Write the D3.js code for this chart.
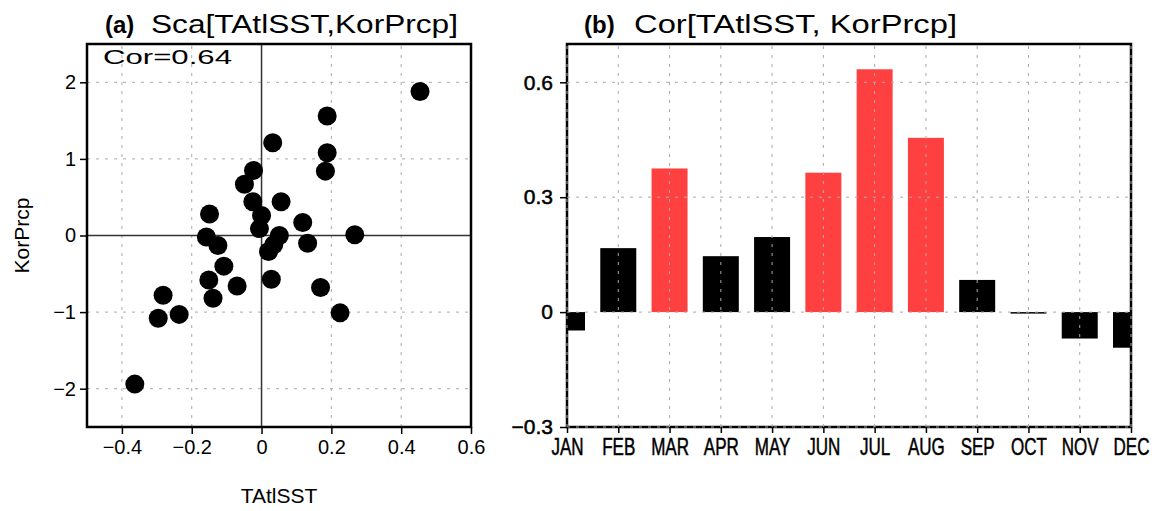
<!DOCTYPE html>
<html>
<head>
<meta charset="utf-8">
<script src="https://cdn.jsdelivr.net/npm/d3@7"></script>
<style>
  body { margin: 0; background: #fff; }
  svg { display: block; }
</style>
</head>
<body>
<svg id="chart" width="1156" height="511"></svg>
<script>
// panel (a) scatter: TAtlSST anomaly vs KorPrcp anomaly
const sstVals = [0.454, 0.188, 0.032, 0.188, 0.183, -0.023, -0.049, -0.025, 0.056, -0.149,
  0.0, 0.118, -0.006, 0.267, -0.158, 0.051, -0.125, 0.132, 0.035, 0.02,
  -0.108, 0.028, -0.151, -0.07, 0.169, -0.139, -0.282, 0.225, -0.236, -0.296, -0.363];
const prcpVals = [1.88, 1.56, 1.21, 1.08, 0.84, 0.85, 0.67, 0.44, 0.44, 0.28,
  0.26, 0.17, 0.09, 0.01, -0.02, 0.0, -0.13, -0.1, -0.12, -0.21,
  -0.40, -0.57, -0.58, -0.66, -0.68, -0.82, -0.78, -1.01, -1.03, -1.08, -1.94];
const xTicksA = [-0.4, -0.2, 0, 0.2, 0.4, 0.6];
const yTicksA = [-2, -1, 0, 1, 2];

// panel (b) monthly correlation
const months = ["JAN", "FEB", "MAR", "APR", "MAY", "JUN", "JUL", "AUG", "SEP", "OCT", "NOV", "DEC"];
const corVals = [-0.048, 0.167, 0.375, 0.146, 0.196, 0.364, 0.634, 0.455, 0.084, -0.003, -0.069, -0.093];
const significant = [false, false, true, false, false, true, true, true, false, false, false, false];
const yTicksB = [-0.3, 0, 0.3, 0.6];

const svg = d3.select("#chart");
const font = "'Liberation Sans', Arial, sans-serif";
const gridColor = "#aaa";
const fmt1 = d => d === 0 ? "0" : d3.format(".1f")(d);

// ---------- panel (a) ----------
const xa = d3.scaleLinear().domain([-0.5, 0.6]).range([87, 471]);
const ya = d3.scaleLinear().domain([-2.5, 2.5]).range([427, 44]);

const ga = svg.append("g");

// dashed grid
ga.append("g").selectAll("line")
  .data(xTicksA.filter(d => d !== 0 && d !== 0.6))
  .enter().append("line")
  .attr("x1", d => xa(d)).attr("x2", d => xa(d))
  .attr("y1", ya.range()[0]).attr("y2", ya.range()[1])
  .attr("stroke", gridColor).attr("stroke-width", 1).attr("stroke-dasharray", "3,6");
ga.append("g").selectAll("line")
  .data(yTicksA.filter(d => d !== 0))
  .enter().append("line")
  .attr("y1", d => ya(d)).attr("y2", d => ya(d))
  .attr("x1", xa.range()[0]).attr("x2", xa.range()[1])
  .attr("stroke", gridColor).attr("stroke-width", 1).attr("stroke-dasharray", "3,6");

// zero lines
ga.append("line")
  .attr("x1", xa(0)).attr("x2", xa(0)).attr("y1", ya(-2.5)).attr("y2", ya(2.5))
  .attr("stroke", "#333").attr("stroke-width", 1.5);
ga.append("line")
  .attr("x1", xa(-0.5)).attr("x2", xa(0.6)).attr("y1", ya(0)).attr("y2", ya(0))
  .attr("stroke", "#333").attr("stroke-width", 1.5);

// points
ga.append("g").selectAll("circle")
  .data(sstVals.map((v, i) => [v, prcpVals[i]]))
  .enter().append("circle")
  .attr("cx", d => xa(d[0]))
  .attr("cy", d => ya(d[1]))
  .attr("r", 9.5)
  .attr("fill", "#000");

// frame
ga.append("rect")
  .attr("x", xa(-0.5)).attr("y", ya(2.5))
  .attr("width", xa(0.6) - xa(-0.5)).attr("height", ya(-2.5) - ya(2.5))
  .attr("fill", "none").attr("stroke", "#000").attr("stroke-width", 2.5);

// axes
const axA = ga.append("g")
  .attr("transform", `translate(0,${ya(-2.5)})`)
  .call(d3.axisBottom(xa).tickValues(xTicksA).tickFormat(fmt1).tickSize(7).tickPadding(6));
const ayA = ga.append("g")
  .attr("transform", `translate(${xa(-0.5)},0)`)
  .call(d3.axisLeft(ya).tickValues(yTicksA).tickFormat(d3.format("d")).tickSize(7).tickPadding(4));
[axA, ayA].forEach(a => {
  a.select(".domain").remove();
  a.selectAll("line").attr("stroke", "#000").attr("stroke-width", 1.5);
  a.selectAll("text").attr("font-family", font).attr("font-size", 20).attr("fill", "#000");
});

ga.append("text")
  .attr("x", 103).attr("y", 64)
  .attr("font-family", font).attr("font-size", 21)
  .attr("textLength", 129).attr("lengthAdjust", "spacingAndGlyphs")
  .text("Cor=0.64");

ga.append("text")
  .attr("x", 279).attr("y", 503).attr("text-anchor", "middle")
  .attr("font-family", font).attr("font-size", 21)
  .text("TAtlSST");
ga.append("text")
  .attr("transform", `translate(29,${ya(0)}) rotate(-90)`)
  .attr("text-anchor", "middle")
  .attr("font-family", font).attr("font-size", 21)
  .text("KorPrcp");

ga.append("text")
  .attr("x", 105).attr("y", 33)
  .attr("font-family", font).attr("font-size", 24).attr("font-weight", "bold")
  .text("(a)");
ga.append("text")
  .attr("x", 151).attr("y", 33)
  .attr("font-family", font).attr("font-size", 25)
  .attr("textLength", 307).attr("lengthAdjust", "spacingAndGlyphs")
  .text("Sca[TAtlSST,KorPrcp]");

// ---------- panel (b) ----------
const xb = d3.scalePoint().domain(months).range([567, 1131]);
const yb = d3.scaleLinear().domain([-0.3, 0.7]).range([427, 44]);
const barW = 36;

const gb = svg.append("g");

svg.append("defs").append("clipPath").attr("id", "clipB")
  .append("rect")
  .attr("x", xb.range()[0]).attr("y", yb(0.7))
  .attr("width", xb.range()[1] - xb.range()[0]).attr("height", yb(-0.3) - yb(0.7));

gb.append("g").attr("clip-path", "url(#clipB)")
  .selectAll("rect")
  .data(months.map((m, i) => ({ m, v: corVals[i], s: significant[i] })))
  .enter().append("rect")
  .attr("x", d => xb(d.m) - barW / 2)
  .attr("width", barW)
  .attr("y", d => yb(Math.max(0, d.v)))
  .attr("height", d => Math.max(1.5, Math.abs(yb(d.v) - yb(0))))
  .attr("fill", d => d.s ? "#ff4040" : "#000");

// frame
gb.append("rect")
  .attr("x", xb.range()[0]).attr("y", yb(0.7))
  .attr("width", xb.range()[1] - xb.range()[0]).attr("height", yb(-0.3) - yb(0.7))
  .attr("fill", "none").attr("stroke", "#000").attr("stroke-width", 2.5);

// dashed grid over bars
gb.append("g").selectAll("line")
  .data(months)
  .enter().append("line")
  .attr("x1", d => xb(d)).attr("x2", d => xb(d))
  .attr("y1", yb(-0.3)).attr("y2", yb(0.7))
  .attr("stroke", gridColor).attr("stroke-width", 1).attr("stroke-dasharray", "3,6");
gb.append("g").selectAll("line")
  .data(yTicksB)
  .enter().append("line")
  .attr("y1", d => yb(d)).attr("y2", d => yb(d))
  .attr("x1", xb.range()[0]).attr("x2", xb.range()[1])
  .attr("stroke", gridColor).attr("stroke-width", 1).attr("stroke-dasharray", "3,6");

const axB = gb.append("g")
  .attr("transform", `translate(0,${yb(-0.3)})`)
  .call(d3.axisBottom(xb).tickSize(6).tickPadding(5));
const ayB = gb.append("g")
  .attr("transform", `translate(${xb.range()[0]},0)`)
  .call(d3.axisLeft(yb).tickValues(yTicksB).tickFormat(fmt1).tickSize(7).tickPadding(7));
[axB, ayB].forEach(a => {
  a.select(".domain").remove();
  a.selectAll("line").attr("stroke", "#000").attr("stroke-width", 1.5);
  a.selectAll("text").attr("font-family", font).attr("fill", "#000")
    .attr("stroke", "#000").attr("stroke-width", 0.5);
});
// condensed month labels
axB.selectAll("text").attr("font-size", 24).attr("transform", "scale(0.71,1)");
ayB.selectAll("text").attr("font-size", 21);

gb.append("text")
  .attr("x", 584).attr("y", 33)
  .attr("font-family", font).attr("font-size", 24).attr("font-weight", "bold")
  .text("(b)");
gb.append("text")
  .attr("x", 634).attr("y", 33)
  .attr("font-family", font).attr("font-size", 25)
  .attr("textLength", 323).attr("lengthAdjust", "spacingAndGlyphs")
  .text("Cor[TAtlSST, KorPrcp]");
</script>
</body>
</html>
